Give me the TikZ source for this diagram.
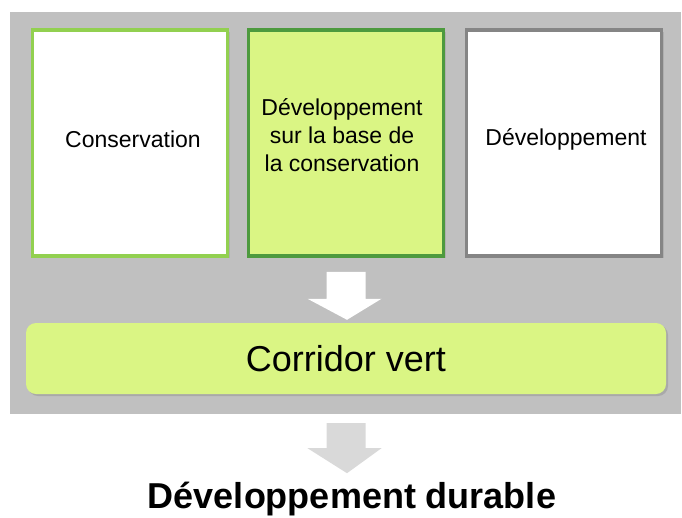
\documentclass[tikz,border=0pt]{standalone}
\usepackage{fontspec}
\setmainfont{Liberation Sans}
\usetikzlibrary{positioning,calc,shadows}
\definecolor{cBack}{HTML}{C0C0C0}
\definecolor{cLeaf}{HTML}{92D050}
\definecolor{cMoss}{HTML}{4D9A3E}
\definecolor{cLime}{HTML}{DAF584}
\definecolor{cStone}{HTML}{858585}
\definecolor{cMist}{HTML}{D9D9D9}
\tikzset{
  pane/.style={draw,line width=3.5pt,minimum width=195pt,minimum height=226pt,
               inner sep=0pt,
               drop shadow={opacity=.25,shadow xshift=2pt,shadow yshift=-2pt}},
  panetext/.style={align=center,font=\fontsize{23}{28}\selectfont},
  band/.style={fill=cLime,rounded corners=10pt,minimum width=640pt,
               minimum height=71pt,inner sep=0pt,
               font=\fontsize{36}{40}\selectfont,
               drop shadow={opacity=.35,shadow xshift=2pt,shadow yshift=-2pt}},
  goal/.style={font=\fontsize{36}{40}\selectfont\bfseries,inner sep=0pt},
}
\begin{document}
\begin{tikzpicture}[x=1pt,y=-1pt]
  \useasboundingbox (0,0) rectangle (682,517);
  \fill[cBack] (10,12) rectangle (681,414);
  % three panes
  \node[pane,draw=cLeaf,fill=white] (cons) at (130,143) {};
  \node[pane,draw=cMoss,fill=cLime] (mix) at (346,143) {};
  \node[pane,draw=cStone,fill=white] (dev) at (564,143) {};
  \node[panetext] (cons-t) at ($(cons.center)+(3,-4)$) {Conservation};
  \node[panetext] (mix-t) at ($(mix.center)+(-4,-8)$)
    {Développement\\sur la base de\\la conservation};
  \node[panetext] (dev-t) at ($(dev.center)+(2,-4)$) {Développement};
  % band and goal
  \node[band] (corr) at (346,358.5) {Corridor vert};
  \node[goal,anchor=base] (durable) at (352,508) {Développement durable};
  % block arrows
  \fill[white] ($(mix.south)+(-19.5,14)$) -- ++(39,0) -- ++(0,27) -- ++(16,0)
    -- ($(corr.north)+(1,-3)$) -- ($(mix.south)+(-38.5,41)$) -- ++(19,0) -- cycle;
  \fill[cMist] ($(corr.south)+(-19.5,29)$) -- ++(39,0) -- ++(0,25) -- ++(16,0)
    -- ($(corr.south)+(1,79)$) -- ($(corr.south)+(-38.5,54)$) -- ++(19,0) -- cycle;
\end{tikzpicture}
\end{document}
